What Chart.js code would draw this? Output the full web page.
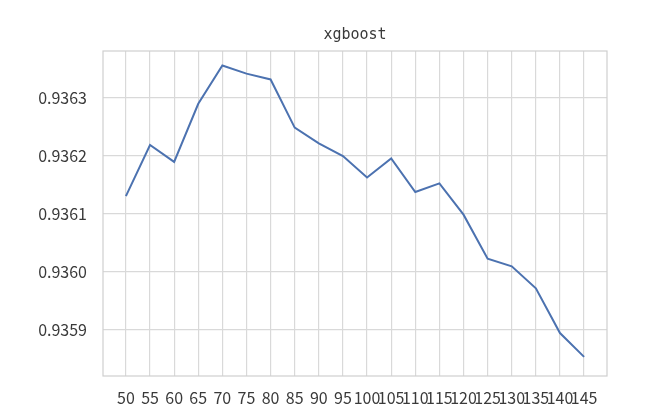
<!DOCTYPE html>
<html>
<head>
<meta charset="utf-8">
<script src="https://cdn.jsdelivr.net/npm/chart.js@4/dist/chart.umd.min.js"></script>
<style>
  html, body { margin: 0; padding: 0; background: #fff; }
  #wrap { width: 657px; height: 416px; }
</style>
</head>
<body>
<div id="wrap"><canvas id="xgbChart" width="657" height="416"></canvas></div>
<script>
const titleText = 'xgboost';
const estimators = [50, 55, 60, 65, 70, 75, 80, 85, 90, 95, 100, 105, 110, 115, 120, 125, 130, 135, 140, 145];
const scores = [0.936130, 0.936218, 0.936189, 0.936289, 0.936355, 0.936341, 0.936331, 0.936248,
                0.936221, 0.936199, 0.936162, 0.936195, 0.936137, 0.936152, 0.936098, 0.936022,
                0.936009, 0.935971, 0.935894, 0.935853];
const yTicks = [0.9359, 0.9360, 0.9361, 0.9362, 0.9363];

const gridColor = '#d9d9d9';
const textColor = '#3a3a3a';
const tickFont = { family: '"Noto Sans CJK SC", sans-serif', size: 16 };

// matplotlib style frame round the plot area
const frame = {
  id: 'frame',
  afterDraw(chart) {
    const { ctx, chartArea } = chart;
    ctx.save();
    ctx.strokeStyle = '#cfcfcf';
    ctx.lineWidth = 1.2;
    ctx.strokeRect(chartArea.left, chartArea.top, chartArea.right - chartArea.left, chartArea.bottom - chartArea.top);
    ctx.restore();
  }
};

function drawChart(ctx) {
  const step = estimators[1] - estimators[0];
  const pad = (estimators[estimators.length - 1] - estimators[0]) * 0.05;
  new Chart(ctx, {
    type: 'line',
    data: {
      datasets: [{
        data: estimators.map((e, i) => ({ x: e, y: scores[i] })),
        borderColor: '#4c72b0',
        borderWidth: 2,
        pointRadius: 0,
        tension: 0,
        fill: false
      }]
    },
    options: {
      responsive: false,
      animation: false,
      layout: { padding: { left: 0, right: 50, top: 0, bottom: 0 } },
      plugins: {
        legend: { display: false },
        tooltip: { enabled: false },
        title: {
          display: true,
          text: titleText,
          fullSize: false,
          color: textColor,
          font: { family: '"DejaVu Sans Mono", monospace', size: 15, weight: 'normal' },
          padding: { top: 26, bottom: 7 }
        }
      },
      scales: {
        x: {
          type: 'linear',
          min: estimators[0] - pad,
          max: estimators[estimators.length - 1] + pad,
          afterBuildTicks: s => { s.ticks = estimators.map(v => ({ value: v })); },
          afterFit: s => { s.height = 40; },
          grid: { color: gridColor, lineWidth: 1.2, tickLength: 0 },
          border: { display: false },
          ticks: { color: textColor, font: tickFont, padding: 12, maxRotation: 0, autoSkip: false,
                   callback: v => String(v) }
        },
        y: {
          min: 0.93582,
          max: 0.93638,
          afterBuildTicks: s => { s.ticks = yTicks.map(v => ({ value: v })); },
          afterFit: s => { s.width = 103; },
          grid: { color: gridColor, lineWidth: 1.2, tickLength: 0 },
          border: { display: false },
          ticks: { color: textColor, font: tickFont, padding: 16, callback: v => v.toFixed(4) }
        }
      }
    },
    plugins: [frame]
  });
}

drawChart(document.getElementById('xgbChart').getContext('2d'));
</script>
</body>
</html>
